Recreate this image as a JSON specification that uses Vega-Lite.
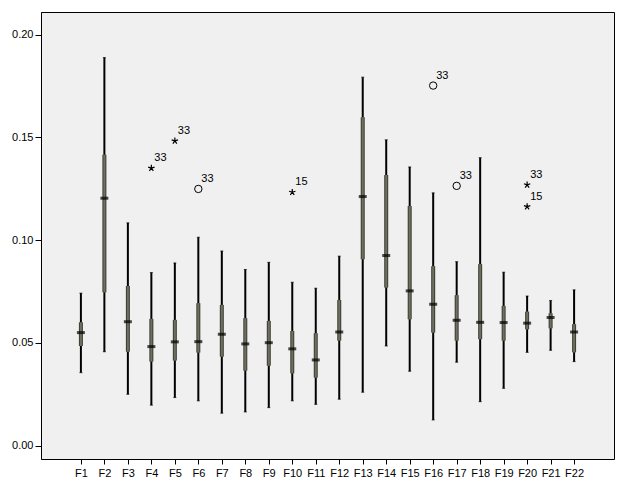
{
  "$schema": "https://vega.github.io/schema/vega-lite/v6.json",
  "autosize": "none",
  "width": 573,
  "height": 447,
  "padding": {"left": 41, "top": 12, "right": 13, "bottom": 43},
  "background": "white",
  "config": {
    "view": {"fill": "#f0f0f0", "stroke": "#000000", "strokeWidth": 1},
    "font": "Liberation Sans",
    "axis": {"labelFont": "Liberation Sans", "labelFontSize": 11, "labelColor": "#000000", "domainColor": "#000000", "tickColor": "#000000", "grid": false, "title": null}
  },
  "datasets": {
    "boxes": [
      {"f": "F1", "lo": 0.0355, "q1": 0.0485, "med": 0.0550, "q3": 0.0600, "hi": 0.0742},
      {"f": "F2", "lo": 0.0457, "q1": 0.0746, "med": 0.1204, "q3": 0.1415, "hi": 0.1888},
      {"f": "F3", "lo": 0.0250, "q1": 0.0457, "med": 0.0603, "q3": 0.0777, "hi": 0.1084},
      {"f": "F4", "lo": 0.0197, "q1": 0.0409, "med": 0.0482, "q3": 0.0617, "hi": 0.0842},
      {"f": "F5", "lo": 0.0234, "q1": 0.0414, "med": 0.0505, "q3": 0.0612, "hi": 0.0889},
      {"f": "F6", "lo": 0.0218, "q1": 0.0453, "med": 0.0506, "q3": 0.0693, "hi": 0.1014},
      {"f": "F7", "lo": 0.0158, "q1": 0.0433, "med": 0.0542, "q3": 0.0685, "hi": 0.0947},
      {"f": "F8", "lo": 0.0164, "q1": 0.0365, "med": 0.0495, "q3": 0.0620, "hi": 0.0857},
      {"f": "F9", "lo": 0.0185, "q1": 0.0389, "med": 0.0501, "q3": 0.0607, "hi": 0.0892},
      {"f": "F10", "lo": 0.0218, "q1": 0.0352, "med": 0.0471, "q3": 0.0558, "hi": 0.0795},
      {"f": "F11", "lo": 0.0201, "q1": 0.0331, "med": 0.0417, "q3": 0.0547, "hi": 0.0766},
      {"f": "F12", "lo": 0.0226, "q1": 0.0511, "med": 0.0553, "q3": 0.0709, "hi": 0.0922},
      {"f": "F13", "lo": 0.0260, "q1": 0.0907, "med": 0.1212, "q3": 0.1598, "hi": 0.1793},
      {"f": "F14", "lo": 0.0485, "q1": 0.0769, "med": 0.0925, "q3": 0.1317, "hi": 0.1488},
      {"f": "F15", "lo": 0.0362, "q1": 0.0615, "med": 0.0753, "q3": 0.1166, "hi": 0.1356},
      {"f": "F16", "lo": 0.0125, "q1": 0.0550, "med": 0.0688, "q3": 0.0873, "hi": 0.1230},
      {"f": "F17", "lo": 0.0406, "q1": 0.0511, "med": 0.0610, "q3": 0.0732, "hi": 0.0895},
      {"f": "F18", "lo": 0.0214, "q1": 0.0518, "med": 0.0600, "q3": 0.0883, "hi": 0.1401},
      {"f": "F19", "lo": 0.0279, "q1": 0.0511, "med": 0.0599, "q3": 0.0680, "hi": 0.0844},
      {"f": "F20", "lo": 0.0454, "q1": 0.0566, "med": 0.0596, "q3": 0.0652, "hi": 0.0728},
      {"f": "F21", "lo": 0.0464, "q1": 0.0571, "med": 0.0623, "q3": 0.0644, "hi": 0.0706},
      {"f": "F22", "lo": 0.0409, "q1": 0.0454, "med": 0.0553, "q3": 0.0591, "hi": 0.0758}
    ],
    "outliers": [
      {"f": "F4", "v": 0.1350, "kind": "extreme", "label": "33"},
      {"f": "F5", "v": 0.1483, "kind": "extreme", "label": "33"},
      {"f": "F6", "v": 0.1249, "kind": "outlier", "label": "33"},
      {"f": "F10", "v": 0.1233, "kind": "extreme", "label": "15"},
      {"f": "F16", "v": 0.1752, "kind": "outlier", "label": "33"},
      {"f": "F17", "v": 0.1264, "kind": "outlier", "label": "33"},
      {"f": "F20", "v": 0.1269, "kind": "extreme", "label": "33"},
      {"f": "F20", "v": 0.1163, "kind": "extreme", "label": "15"}
    ]
  },
  "encoding": {
    "x": {
      "field": "f", "type": "nominal", "sort": null,
      "scale": {"type": "point", "padding": 0, "range": [39.9, 533.1],
        "domain": ["F1","F2","F3","F4","F5","F6","F7","F8","F9","F10","F11","F12","F13","F14","F15","F16","F17","F18","F19","F20","F21","F22"]},
      "axis": {"labelAngle": 0, "tickSize": 5, "labelPadding": 3}
    }
  },
  "layer": [
    {
      "data": {"name": "boxes"},
      "mark": {"type": "rule", "color": "#000000", "strokeWidth": 2},
      "encoding": {
        "y": {"field": "lo", "type": "quantitative",
          "scale": {"domain": [-0.0065, 0.211], "nice": false, "zero": false},
          "axis": {"values": [0, 0.05, 0.1, 0.15, 0.2], "format": ".2f", "tickSize": 6, "labelPadding": 2}},
        "y2": {"field": "hi"}
      }
    },
    {
      "data": {"name": "boxes"},
      "mark": {"type": "tick", "color": "#000000", "size": 3, "thickness": 1},
      "encoding": {"y": {"field": "lo", "type": "quantitative"}}
    },
    {
      "data": {"name": "boxes"},
      "mark": {"type": "tick", "color": "#000000", "size": 3, "thickness": 1},
      "encoding": {"y": {"field": "hi", "type": "quantitative"}}
    },
    {
      "data": {"name": "boxes"},
      "mark": {"type": "rule", "color": "#3c3c30", "strokeWidth": 4, "strokeCap": "butt"},
      "encoding": {
        "y": {"field": "q1", "type": "quantitative"},
        "y2": {"field": "q3"}
      }
    },
    {
      "data": {"name": "boxes"},
      "mark": {"type": "rule", "color": "#6f6f62", "strokeWidth": 2, "strokeCap": "butt"},
      "encoding": {
        "y": {"field": "q1", "type": "quantitative"},
        "y2": {"field": "q3"}
      }
    },
    {
      "data": {"name": "boxes"},
      "mark": {"type": "tick", "color": "#000000", "size": 8, "thickness": 3},
      "encoding": {"y": {"field": "med", "type": "quantitative"}}
    },
    {
      "data": {"name": "outliers"},
      "transform": [{"filter": "datum.kind === 'outlier'"}],
      "mark": {"type": "point", "shape": "circle", "filled": false, "color": "#000000", "size": 55, "strokeWidth": 1, "opacity": 1},
      "encoding": {"y": {"field": "v", "type": "quantitative"}}
    },
    {
      "data": {"name": "outliers"},
      "transform": [{"filter": "datum.kind === 'extreme'"}],
      "mark": {"type": "point", "shape": "M0,0L0,-1M0,0L0.951,-0.309M0,0L0.588,0.809M0,0L-0.588,0.809M0,0L-0.951,-0.309", "filled": false, "color": "#000000", "size": 45, "strokeWidth": 1.2, "opacity": 1},
      "encoding": {"y": {"field": "v", "type": "quantitative"}}
    },
    {
      "data": {"name": "outliers"},
      "mark": {"type": "text", "align": "left", "baseline": "middle", "dx": 3, "dy": -10, "fontSize": 11, "color": "#000000", "font": "Liberation Sans"},
      "encoding": {"y": {"field": "v", "type": "quantitative"}, "text": {"field": "label"}}
    }
  ]
}
